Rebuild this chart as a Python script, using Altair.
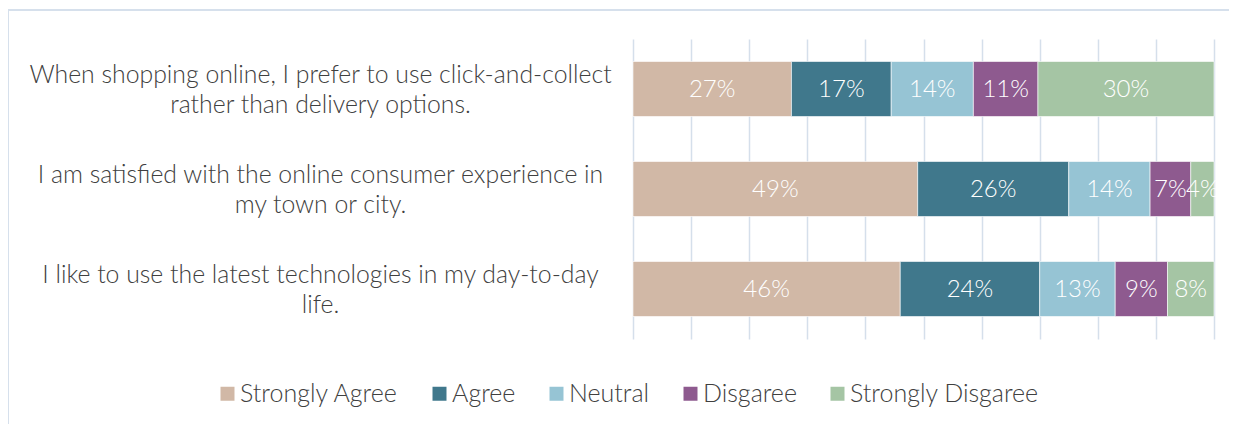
import altair as alt
import pandas as pd

statements = [
    "When shopping online, I prefer to use click-and-collect|rather than delivery options.",
    "I am satisfied with the online consumer experience in|my town or city.",
    "I like to use the latest technologies in my day-to-day|life.",
]
responses = ["Strongly Agree", "Agree", "Neutral", "Disgaree", "Strongly Disgaree"]
click_collect = [27, 17, 14, 11, 30]
satisfied = [49, 26, 14, 7, 4]
latest_tech = [46, 24, 13, 9, 8]
colors = ["#D1B8A6", "#40788C", "#96C4D4", "#8E5A8F", "#A5C5A4"]
grid_values = [0, 0.1, 0.2, 0.3, 0.4, 0.5, 0.6, 0.7, 0.8, 0.9, 1.0]

FONT = "Lato"

rows = []
for s, vals in zip(statements, [click_collect, satisfied, latest_tech]):
    for i, (r, v) in enumerate(zip(responses, vals)):
        rows.append({"statement": s, "response": r, "order": i, "value": v})
df = pd.DataFrame(rows)

base = alt.Chart(df).transform_stack(
    stack="value", as_=["x0", "x1"], groupby=["statement"],
    sort=[alt.SortField("order")], offset="normalize"
).transform_calculate(
    mid="(datum.x0 + datum.x1) / 2",
    label="datum.value + '%'",
)

yaxis = alt.Axis(
    domain=False, ticks=False, grid=False, labelAlign="center", labelPadding=313,
    labelExpr="split(datum.label, '|')", labelLineHeight=30,
    labelOffset=-13,
    labelFontSize=24.8, labelFont=FONT, labelFontWeight=300,
    labelColor="#404040", labelLimit=800, labelBaseline="middle",
)
xaxis = alt.Axis(
    labels=False, ticks=False, domain=False,
    values=grid_values,
    gridColor="#D5DFEB", gridWidth=1.5, grid=True,
)
yscale = alt.Scale(paddingInner=0.45, paddingOuter=0.225)
xscale = alt.Scale(domain=[0, 1])

bars = base.mark_bar(stroke="white", strokeWidth=0.6).encode(
    x=alt.X("x0:Q", scale=xscale, title=None, axis=xaxis),
    x2="x1:Q",
    y=alt.Y("statement:N", sort=statements, title=None, scale=yscale, axis=yaxis),
    color=alt.Color(
        "response:N", sort=responses,
        scale=alt.Scale(domain=responses, range=colors),
        legend=alt.Legend(
            title=None, orient="none", direction="horizontal",
            legendX=-418, legendY=342, symbolType="square", symbolSize=196,
            symbolStrokeWidth=0, labelFontSize=25, labelFont=FONT,
            labelFontWeight=300, labelColor="#404040", labelLimit=400,
            columnPadding=28, labelOffset=0,
        ),
    ),
)

texts = base.mark_text(
    color="white", fontSize=24, font=FONT, fontWeight=300, baseline="middle", dy=1
).encode(
    x=alt.X("mid:Q", scale=xscale, title=None, axis=xaxis),
    y=alt.Y("statement:N", sort=statements, title=None, scale=yscale, axis=yaxis),
    text="label:N",
)

border = alt.Chart(pd.DataFrame({"a": [0]})).mark_rect(
    fillOpacity=0, stroke="#D6E0EC", strokeWidth=2
).encode(
    x=alt.value(-625), x2=alt.value(800), y=alt.value(-29), y2=alt.value(600)
)

chart = alt.layer(border, bars, texts).properties(
    width=581, height=300,
    background="white",
    autosize=alt.AutoSizeParams(type="none"),
    padding={"left": 625, "top": 31, "right": 15, "bottom": 85},
).configure_view(stroke="transparent", strokeWidth=0)

chart.save("out.html", embed_options={"renderer": "svg", "actions": False})
